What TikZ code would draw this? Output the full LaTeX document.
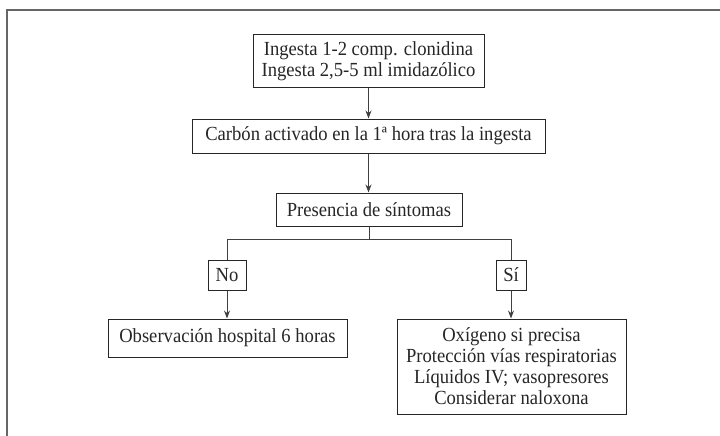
\documentclass[tikz,border=0pt]{standalone}
\usepackage{fontspec}
\setmainfont[FakeStretch=0.93]{Liberation Serif}
\usetikzlibrary{arrows.meta}
\begin{document}
\begin{tikzpicture}[x=1pt,y=-1pt,
  box/.style={draw=black!85,line width=1pt,inner sep=0pt,align=center,
    font=\fontsize{20}{21}\selectfont,text=black!85},
  conn/.style={draw=black!75,line width=1pt},
  arr/.style={conn,-{Stealth[length=8pt,width=6pt]}}]
\useasboundingbox (0,0) rectangle (720,436);
\draw[black!60,line width=1.6pt] (720,10) -- (7,10) -- (7,436);
\node[box,minimum width=231pt,minimum height=52pt] (a) at (368.5,61) {Ingesta 1-2 comp. clonidina\\Ingesta 2,5-5 ml imidazólico};
\node[box,minimum width=353pt,minimum height=34pt] (b) at (368.5,136) {Carbón activado en la 1ª hora tras la ingesta};
\node[box,minimum width=186pt,minimum height=33pt] (c) at (369,209.5) {Presencia de síntomas};
\node[box,minimum width=38pt,minimum height=30pt] (no) at (227,275) {No};
\node[box,minimum width=30pt,minimum height=30pt] (si) at (511,275) {Sí};
\node[box,minimum width=239pt,minimum height=38pt] (obs) at (227.5,338) {Observación hospital 6 horas};
\node[box,minimum width=229pt,minimum height=95pt] (tr) at (511.5,366.5) {Oxígeno si precisa\\Protección vías respiratorias\\Líquidos IV; vasopresores\\Considerar naloxona};
\coordinate (j) at (369,239);
\coordinate (jl) at (227,239);
\coordinate (jr) at (511,239);
\draw[arr] (a) -- (b);
\draw[arr] (b.south -| a) -- (c.north -| a);
\draw[conn] (c.south) -- (j);
\draw[conn] (jl) -- (jr);
\draw[conn] (jl) -- (no.north);
\draw[conn] (jr) -- (si.north);
\draw[arr] (no) -- (obs.north -| no);
\draw[arr] (si) -- (tr.north -| si);
\end{tikzpicture}
\end{document}
